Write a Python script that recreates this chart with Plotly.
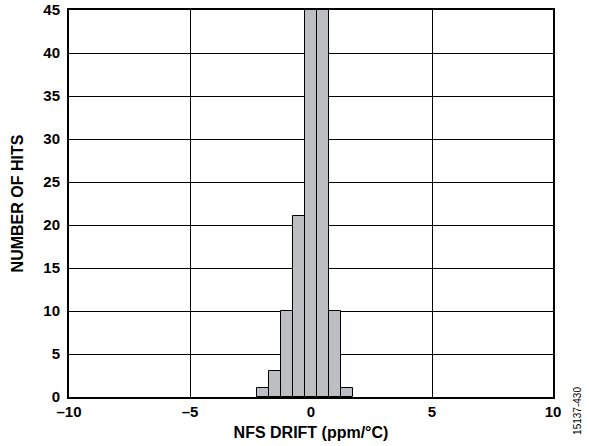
import plotly.graph_objects as go

bin_centers = [-2.0, -1.5, -1.0, -0.5, 0.0, 0.5, 1.0, 1.5]
hits = [1, 3, 10, 21, 52, 49, 10, 1]
x_tick_vals = [-10, -5, 0, 5, 10]
x_tick_text = ["–10", "–5", "0", "5", "10"]
y_tick_vals = [0, 5, 10, 15, 20, 25, 30, 35, 40, 45]

font_family = "Liberation Sans, Arial, sans-serif"

fig = go.Figure()
fig.add_trace(go.Bar(
    x=bin_centers, y=hits, width=0.5,
    marker=dict(color="#BDBEC1", line=dict(color="black", width=1)),
))

fig.update_layout(
    width=589, height=446,
    margin=dict(l=69, r=36, t=10, b=49),
    paper_bgcolor="white", plot_bgcolor="white",
    showlegend=False, bargap=0,
    font=dict(family=font_family, color="black", size=13),
)
fig.update_xaxes(
    range=[-10, 10], tickvals=x_tick_vals, ticktext=x_tick_text,
    showgrid=True, gridcolor="black", gridwidth=1,
    showline=True, linecolor="black", linewidth=2, mirror=True,
    ticks="", zeroline=False, automargin=False,
    tickfont=dict(family=font_family, size=15, weight="bold"),
    title=dict(text="NFS DRIFT (ppm/°C)", standoff=8,
               font=dict(family=font_family, size=16, weight="bold")),
)
fig.update_yaxes(
    range=[0, 45], tickvals=y_tick_vals,
    showgrid=True, gridcolor="black", gridwidth=1,
    showline=True, linecolor="black", linewidth=2, mirror=True,
    ticks="", zeroline=False, automargin=False, ticklabelstandoff=4,
    tickfont=dict(family=font_family, size=15, weight="bold"),
    title=dict(text="NUMBER OF HITS", standoff=16,
               font=dict(family=font_family, size=16, weight="bold")),
)
fig.add_annotation(
    text="15137-430", xref="paper", yref="paper", x=1.0517, y=-0.103,
    xanchor="center", yanchor="bottom", textangle=-90, showarrow=False,
    font=dict(family=font_family, size=10, color="black"),
)
fig.write_html(
    "out.html",
    config={"displayModeBar": False},
    post_script="document.body.style.margin='0';document.body.style.overflow='hidden';",
)
